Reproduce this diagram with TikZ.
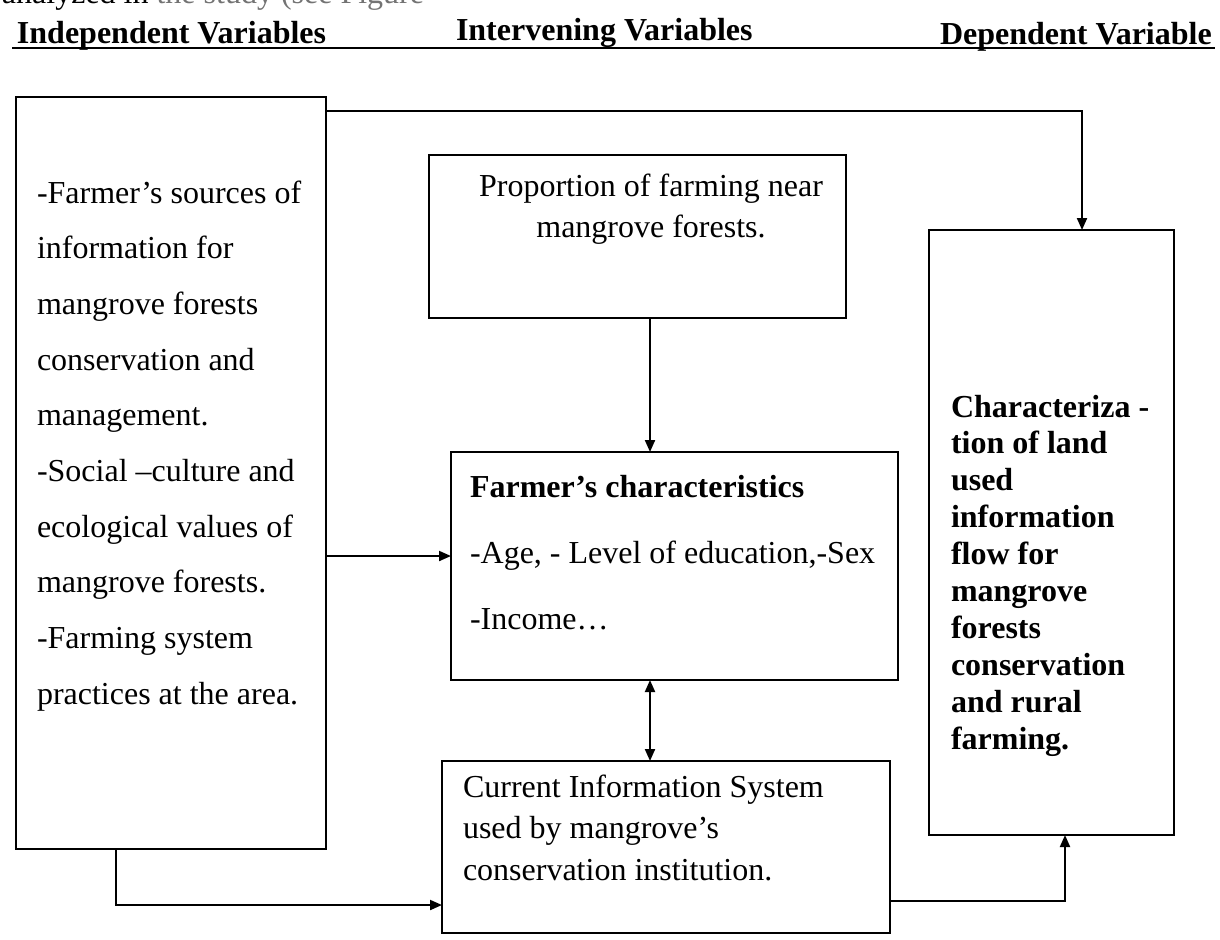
\documentclass[tikz,border=0pt]{standalone}
\usepackage{fontspec}
\setmainfont{Liberation Serif}
\usetikzlibrary{arrows.meta,fit}
% lines stacked with a fixed baseline distance; the block's baseline is that of its first line
\newcommand\stackL[2]{\vtop{\baselineskip=#1\lineskiplimit=-100pt\lineskip=0pt\halign{##\hfil\cr#2\crcr}}}
\newcommand\stackC[2]{\vtop{\baselineskip=#1\lineskiplimit=-100pt\lineskip=0pt\halign{\hfil##\hfil\cr#2\crcr}}}
\begin{document}
\begin{tikzpicture}[x=0.5pt,y=-0.5pt,
  box/.style={draw, line width=1pt, inner sep=0pt, outer sep=0pt},
  txt/.style={inner sep=0pt, outer sep=0pt, anchor=base west},
  hdr/.style={inner sep=0pt, outer sep=0pt, anchor=base west, font=\fontsize{16}{19}\selectfont\bfseries},
  conn/.style={line width=1pt},
  tip/.tip={Triangle[length=6pt,width=5pt]},
  arr/.style={conn, -tip},
  darr/.style={conn, tip-tip}
]
\useasboundingbox (0,0) rectangle (1220,939);

% clipped caption line at the very top
\begin{scope}
  \clip (0,0) rectangle (1220,939);
  \node[txt, font=\fontsize{16}{19}\selectfont] (cap) at (2,3) {analyzed in \textcolor{black!55}{the study (see Figure}};
\end{scope}

% headers
\node[hdr] (h1) at (17,43) {Independent Variables};
\node[hdr] (h2) at (456,40) {Intervening Variables};
\node[hdr] (h3) at (940,44) {Dependent Variable};
\draw[conn] (h1.base west) ++(-5,5) coordinate (ul1) -- (1215,48) coordinate (ul2);

% boxes
\node[box, fit={(16,97) (326,849)}] (L) {};
\node[box, fit={(429,155) (846,318)}] (P) {};
\node[box, fit={(451,452) (898,680)}] (F) {};
\node[box, fit={(442,761) (890,933)}] (C) {};
\node[box, fit={(929,230) (1174,835)}] (R) {};

% texts
\node[txt, font=\fontsize{16}{19}\selectfont] (Lt) at (37,203)
 {\stackL{27.85pt}{-Farmer’s sources of\cr information for\cr mangrove forests\cr conservation and\cr management.\cr -Social –culture and\cr ecological values of\cr mangrove forests.\cr -Farming system\cr practices at the area.}};
\node[txt, anchor=base, font=\fontsize{16}{19}\selectfont] (Pt) at (651,196)
 {\stackC{20.5pt}{Proportion of farming near\cr mangrove forests.}};
\node[txt, font=\fontsize{16}{19}\selectfont] (Ft) at (470,497)
 {\stackL{33pt}{\bfseries Farmer’s characteristics\cr -Age, - Level of education,-Sex\cr -Income…}};
\node[txt, font=\fontsize{16}{19}\selectfont] (Ct) at (463,797)
 {\stackL{20.75pt}{Current Information System\cr used by mangrove’s\cr conservation institution.}};
\node[txt, font=\fontsize{16}{19}\selectfont\bfseries] (Rt) at (951,417)
 {\stackL{18.45pt}{Characteriza -\cr tion of land\cr used\cr information\cr flow for\cr mangrove\cr forests\cr conservation\cr and rural\cr farming.}};

% helper coordinates for connector positions
\coordinate (ty) at (0,111);
\coordinate (tx) at (1082,0);
\coordinate (vx) at (650,0);
\coordinate (my) at (0,556);
\coordinate (bx) at (116,0);
\coordinate (by) at (0,905);
\coordinate (ry) at (0,901);
\coordinate (rx) at (1065,0);

% connectors
\draw[arr] (L.east |- ty) -| (R.north -| tx);
\draw[arr] (P.south -| vx) -- (F.north -| vx);
\draw[arr] (L.east |- my) -- (F.west |- my);
\draw[darr] (F.south -| vx) -- (C.north -| vx);
\draw[arr] (L.south -| bx) |- (C.west |- by);
\draw[arr] (C.east |- ry) -| (R.south -| rx);
\end{tikzpicture}
\end{document}
